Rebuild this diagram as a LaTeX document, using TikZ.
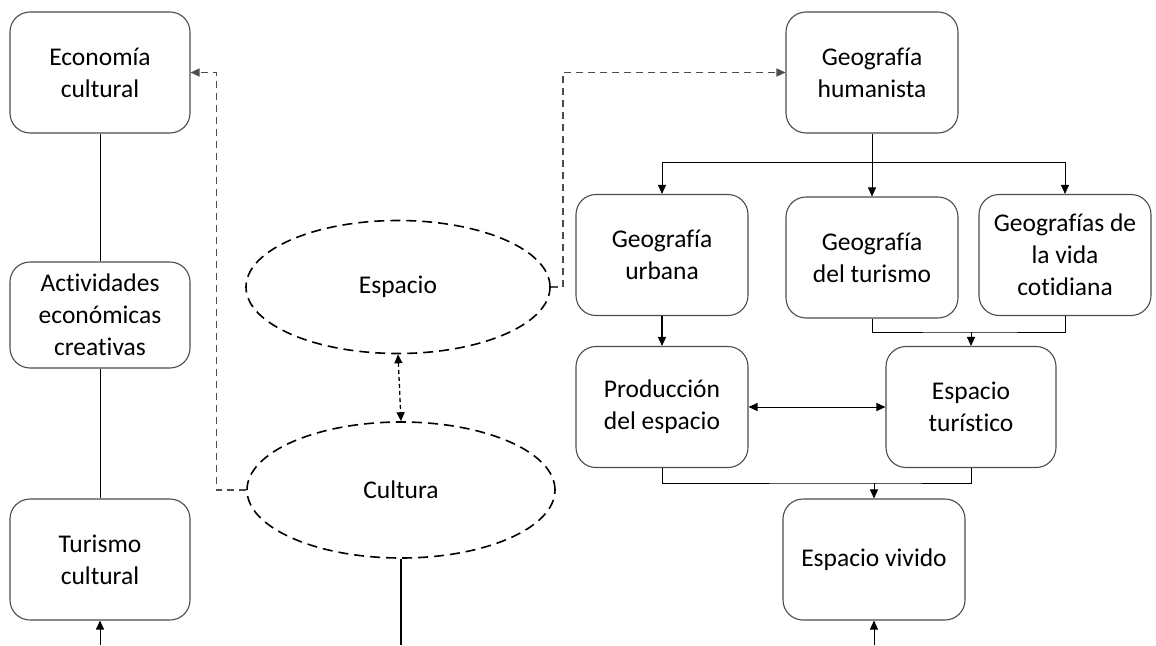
\documentclass[tikz,border=0pt]{standalone}
\usepackage{fontspec}
\setmainfont{Carlito}[Ligatures=NoCommon]
\usetikzlibrary{arrows.meta,shapes.geometric}

\begin{document}
\begin{tikzpicture}[x=1pt,y=-1pt,
  box/.style={draw=black!70, line width=1.1pt, rounded corners=20pt,
    align=center, inner sep=0pt, font=\fontsize{25.5}{32}\selectfont,
    minimum width=172pt, minimum height=121pt},
  wide/.style={minimum width=180pt},
  oval/.style={ellipse, draw=black, line width=1.6pt, dash pattern=on 10pt off 6pt,
    inner sep=0pt, font=\fontsize{25.5}{32}\selectfont},
  link/.style={draw=black, line width=1pt},
  arr/.style={link, -{Triangle[length=9pt,width=8pt]}},
  darr/.style={link, {Triangle[length=9pt,width=8pt]}-{Triangle[length=9pt,width=8pt]}},
  dlink/.style={draw=black!70, line width=1.4pt, dash pattern=on 7pt off 5pt,
    -{Triangle[length=9pt,width=8pt]}},
]
\useasboundingbox (0,0) rectangle (1156,645);

% left column
\node[box, wide] (eco) at (100,72.5) {Economía\\cultural};
\node[box, wide, minimum height=106pt] (act) at (100,315) {Actividades\\económicas\\creativas};
\node[box, wide] (tcul) at (100,559.5) {Turismo\\cultural};

% central ovals
\node[oval, minimum width=304pt, minimum height=133pt] (esp) at (398,287) {Espacio};
\node[oval, minimum width=308pt, minimum height=136pt] (cul) at (401,490) {Cultura};

% right column
\node[box] (hum) at (872,72.5) {Geografía\\humanista};
\node[box] (urb) at (662,255) {Geografía\\urbana};
\node[box] (gtur) at (872,257.5) {Geografía\\del turismo};
\node[box] (vid) at (1065,255) {Geografías de\\la vida\\cotidiana};
\node[box] (prod) at (662,407) {Producción\\del espacio};
\node[box, minimum width=170pt] (etur) at (971,407) {Espacio\\turístico};
\node[box, minimum width=182pt] (viv) at (874,559.5) {Espacio vivido};

% left column links
\draw[link] (eco) -- (act);
\draw[link] (act) -- (tcul);
\coordinate (tin) at (100,645);
\draw[arr] (tin) -- (tcul.south);

% dashed links from the ovals
\draw[dlink] (cul.west) -- ++(-30,0) |- (eco.east);
\draw[dlink] (esp.east) -- ++(12,0) |- (hum.west);
\draw[darr, dash pattern=on 4pt off 3pt, line width=1.3pt] (esp.south) -- (cul.north);
\coordinate (cout) at (401,645);
\draw[link, line width=1.3pt] (cul.south) -- (cout);

% branches from Geografía humanista
\coordinate (hj) at (872,162);
\draw[link] (hum.south) -- (hj);
\draw[arr] (hj) -| (urb.north);
\draw[arr] (hj) -| (vid.north);
\draw[arr] (hj) -- (gtur.north);

% into the middle row
\draw[arr, line width=1.4pt] (urb) -- (prod);
\coordinate (tj) at (971,332);
\draw[link] (gtur.south) |- (tj) -| (vid.south);
\draw[arr] (tj) -- (etur.north);
\draw[darr] (prod) -- (etur);

% into Espacio vivido
\coordinate (vj) at (874,483);
\draw[link] (prod.south) |- (vj) -| (etur.south);
\draw[arr] (vj) -- (viv.north);
\coordinate (vin) at (874,645);
\draw[arr] (vin) -- (viv.south);
\end{tikzpicture}
\end{document}
